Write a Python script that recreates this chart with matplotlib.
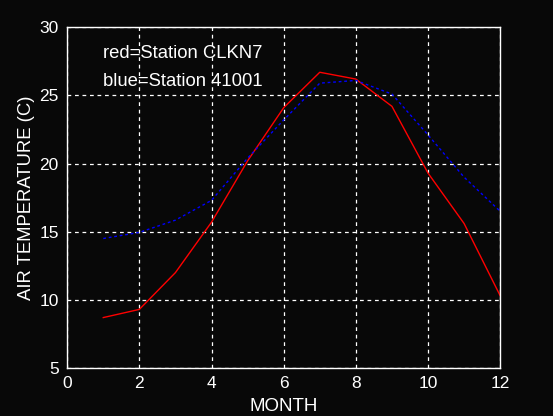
import matplotlib
matplotlib.use('Agg')
import matplotlib.pyplot as plt

months = [1, 2, 3, 4, 5, 6, 7, 8, 9, 10, 11, 12]
clkn7 = [8.7, 9.3, 12.0, 15.7, 20.2, 24.1, 26.7, 26.2, 24.2, 19.3, 15.6, 10.3]
st41001 = [14.5, 14.95, 15.85, 17.3, 20.4, 23.2, 25.9, 26.1, 25.1, 22.1, 19.0, 16.5]

xticks = [0, 2, 4, 6, 8, 10, 12]
yticks = [5, 10, 15, 20, 25, 30]

plt.rcParams['font.family'] = ['Liberation Sans', 'DejaVu Sans']
bg = '#080808'

fig = plt.figure(figsize=(5.53, 4.16), dpi=100, facecolor=bg)
ax = fig.add_axes([0.1215, 0.1154, 0.7830, 0.8190], facecolor=bg)

ax.plot(months, clkn7, color='red', lw=1.0)
ax.plot(months, st41001, color='blue', lw=1.0, linestyle=(0, (2, 2)))

ax.set_xlim(0, 12)
ax.set_ylim(5, 30)
ax.set_xticks(xticks)
ax.set_yticks(yticks)
ax.grid(True, color='white', linestyle=(0, (3, 3)), lw=0.9)
ax.tick_params(colors='white', labelsize=12.5, length=0, pad=6)
for s in ax.spines.values():
    s.set_color('white')
    s.set_linewidth(1.0)

ax.set_xlabel('MONTH', color='white', fontsize=13.5, labelpad=4.5)
ax.set_ylabel('AIR TEMPERATURE (C)', color='white', fontsize=13.3, labelpad=3)

ax.text(1.0, 28.1, 'red=Station CLKN7', color='white', fontsize=13.3, va='center')
ax.text(1.0, 26.05, 'blue=Station 41001', color='white', fontsize=13.3, va='center')

fig.savefig('out.png', dpi=100, facecolor=bg)
